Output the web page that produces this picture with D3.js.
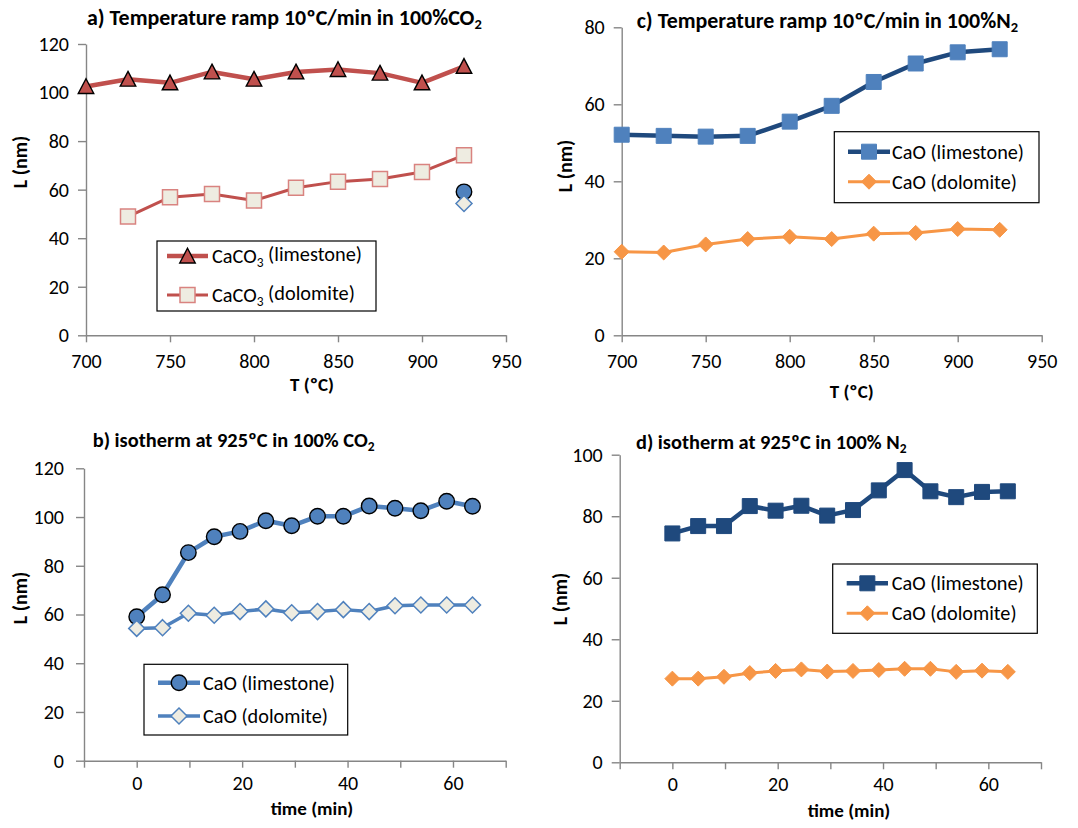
<!DOCTYPE html>
<html>
<head>
<meta charset="utf-8">
<script src="https://cdn.jsdelivr.net/npm/d3@7"></script>
<style>
  body { margin: 0; background: #fff; }
  svg { display: block; }
  text { font-family: Carlito, Lato, "Open Sans", sans-serif; fill: #000; }
</style>
</head>
<body>
<svg id="chart" width="1078" height="828"></svg>
<script>
// ---- data ----
const rampTemp = [700, 725, 750, 775, 800, 825, 850, 875, 900, 925];
const rampTempDolomite = [725, 750, 775, 800, 825, 850, 875, 900, 925];
const caco3Limestone = [102.5, 105.5, 104, 108.5, 105.5, 108.5, 109.5, 108, 104, 110.8];
const caco3Dolomite = [48.9, 56.9, 58.2, 55.5, 60.8, 63.3, 64.4, 67.3, 74.2];
const caoLimestoneN2Ramp = [52.1, 51.8, 51.6, 51.8, 55.5, 59.6, 65.8, 70.6, 73.5, 74.3];
const caoDolomiteN2Ramp = [21.7, 21.5, 23.6, 25.0, 25.6, 25.0, 26.4, 26.6, 27.6, 27.4];

const isoTime = [0, 4.9, 9.8, 14.7, 19.6, 24.5, 29.4, 34.3, 39.2, 44.1, 49, 53.9, 58.8, 63.7];
const caoLimestoneCO2 = [59.1, 68.1, 85.4, 91.9, 94.1, 98.5, 96.4, 100.3, 100.3, 104.5, 103.6, 102.6, 106.5, 104.4];
const caoDolomiteCO2 = [54.3, 54.6, 60.5, 59.7, 61.2, 62.3, 60.7, 61.2, 62.0, 61.2, 63.6, 63.9, 63.9, 63.9];
const caoLimestoneN2 = [74.4, 76.8, 76.8, 83.3, 81.8, 83.4, 80.2, 82.0, 88.4, 95.0, 88.1, 86.2, 87.9, 88.1];
const caoDolomiteN2 = [27.2, 27.2, 27.8, 29.0, 29.7, 30.2, 29.5, 29.7, 30.0, 30.4, 30.4, 29.4, 29.8, 29.4];
// the CO2 isotherm starts at the end temperature of the ramp
const isoStartTemp = [925];

// ---- ticks ----
const tempTicks = [700, 750, 800, 850, 900, 950];
const timeTicks = [-10, 0, 10, 20, 30, 40, 50, 60, 70];
const timeTickLabels = [0, 20, 40, 60];
const lTicks120 = [0, 20, 40, 60, 80, 100, 120];
const lTicks80 = [0, 20, 40, 60, 80];
const lTicks100 = [0, 20, 40, 60, 80, 100];

// ---- colours ----
const RED = "#C0504D", BLUE = "#4F81BD", NAVY = "#1F497D", ORANGE = "#F79646", BEIGE = "#EEECE1";
const AXIS = "#868686";

const svg = d3.select("#chart");

// marker shapes centred on (0,0)
function markerPath(kind, s) {
  const h = s / 2;
  if (kind === "triangle") return `M0,${-h}L${h},${h * 0.9}L${-h},${h * 0.9}Z`;
  if (kind === "square") return `M${-h},${-h}H${h}V${h}H${-h}Z`;
  if (kind === "diamond") return `M0,${-h}L${h},0L0,${h}L${-h},0Z`;
  if (kind === "circle") return `M${h},0A${h},${h} 0 1 1 ${-h},0A${h},${h} 0 1 1 ${h},0Z`;
}

function drawMarkers(g, pts, st) {
  g.selectAll(null).data(pts).join("path")
    .attr("d", markerPath(st.marker, st.size))
    .attr("transform", d => `translate(${d[0]},${d[1]})`)
    .attr("fill", st.fill)
    .attr("stroke", st.stroke)
    .attr("stroke-width", st.strokeWidth);
}

// text with optional subscript part: parts = [[text, isSub], ...]
function richText(sel, parts) {
  parts.forEach(([t, sub]) => {
    const ts = sel.append("tspan").text(t);
    if (sub) ts.attr("font-size", "0.66em").attr("dy", "0.28em");
    else if (sel.selectAll("tspan").size() > 1) ts.attr("dy", "-0.28em");
  });
  return sel;
}

// scale the font so the text spans a given width
function fitWidth(sel, width) {
  const node = sel.node();
  const fs = parseFloat(sel.attr("font-size"));
  const w = node.getComputedTextLength();
  if (w > 0) sel.attr("font-size", (fs * width / w).toFixed(2));
}

function drawPanel(p) {
  const x = d3.scaleLinear().domain(p.xDomain).range([p.left, p.right]);
  const y = d3.scaleLinear().domain(p.yDomain).range([p.bottom, p.top]);
  const g = svg.append("g");

  // axes
  const yAxis = g.append("g").attr("transform", `translate(${p.left},0)`)
    .call(d3.axisLeft(y).tickValues(p.yTicks).tickSize(8).tickSizeOuter(0).tickPadding(p.yPad));
  const xAxis = g.append("g").attr("transform", `translate(0,${p.bottom})`)
    .call(d3.axisBottom(x).tickValues(p.xTicks).tickSize(7).tickSizeOuter(0).tickPadding(p.xPad)
      .tickFormat(d => p.xLabels.includes(d) ? d : ""));
  [yAxis, xAxis].forEach(a => {
    a.attr("font-family", null).attr("font-size", null);
    a.select(".domain").attr("stroke", AXIS).attr("stroke-width", 1.4);
    a.selectAll(".tick line").attr("stroke", AXIS).attr("stroke-width", 1.4);
    a.selectAll(".tick text").attr("font-size", 20).attr("fill", "#000");
  });
  // unlabelled minor ticks carry no text
  xAxis.selectAll(".tick text").filter(d => !p.xLabels.includes(d)).remove();

  // series
  p.series.forEach(s => {
    const pts = s.xs.map((xv, i) => [x(xv), y(s.ys[i])]);
    if (s.lineWidth) {
      g.append("path").datum(pts)
        .attr("d", d3.line())
        .attr("fill", "none").attr("stroke", s.line).attr("stroke-width", s.lineWidth)
        .attr("stroke-linejoin", "round").attr("stroke-linecap", "round");
    }
    drawMarkers(g.append("g"), pts, s);
  });

  // title
  const title = g.append("text").attr("x", p.title.x).attr("y", p.title.y)
    .attr("font-weight", "bold").attr("font-size", 18);
  richText(title, p.title.parts);
  fitWidth(title, p.title.width);

  // axis titles
  g.append("text").attr("x", p.xTitle.x).attr("y", p.xTitle.y).attr("text-anchor", "middle")
    .attr("font-weight", "bold").attr("font-size", 19).text(p.xTitle.text);
  g.append("text").attr("transform", `translate(${p.yTitle.x},${p.yTitle.y}) rotate(-90)`)
    .attr("text-anchor", "middle").attr("font-weight", "bold").attr("font-size", 20).text("L (nm)");

  // legend
  const L = p.legend;
  const lg = g.append("g");
  lg.append("rect").attr("x", L.x0).attr("y", L.y0).attr("width", L.x1 - L.x0).attr("height", L.y1 - L.y0)
    .attr("fill", "#fff").attr("stroke", "#000").attr("stroke-width", 1.2);
  let fs = null;
  L.items.forEach((it, i) => {
    const s = p.series[it.series];
    const cy = L.rows[i];
    lg.append("line").attr("x1", L.lineX0).attr("x2", L.lineX1).attr("y1", cy).attr("y2", cy)
      .attr("stroke", s.line).attr("stroke-width", s.lineWidth);
    drawMarkers(lg.append("g"), [[(L.lineX0 + L.lineX1) / 2, cy]], s);
    const t = lg.append("text").attr("x", L.textX).attr("y", cy).attr("dy", "0.35em").attr("font-size", 17);
    richText(t, it.parts);
    if (i === 0) { fitWidth(t, L.textWidth); fs = t.attr("font-size"); }
    else t.attr("font-size", fs);
  });
}

const limeTri = { marker: "triangle", size: 15.5, fill: RED, stroke: "#000", strokeWidth: 1.4, line: RED, lineWidth: 4.5 };
const doloSq = { marker: "square", size: 15, fill: BEIGE, stroke: "#D98380", strokeWidth: 1.5, line: RED, lineWidth: 3 };
const blueCircle = { marker: "circle", size: 15.5, fill: BLUE, stroke: "#000", strokeWidth: 1.4, line: BLUE, lineWidth: 4.5 };
const beigeDiamond = { marker: "diamond", size: 16, fill: BEIGE, stroke: BLUE, strokeWidth: 1.5, line: BLUE, lineWidth: 3.5 };
const orangeDiamond = { marker: "diamond", size: 15, fill: ORANGE, stroke: ORANGE, strokeWidth: 1, line: ORANGE, lineWidth: 3 };

const panels = [
  {
    left: 86, right: 506, top: 44, bottom: 335.3, xDomain: [700, 950], yDomain: [0, 120],
    xTicks: tempTicks, xLabels: tempTicks, yTicks: lTicks120, yPad: 9, xPad: 12,
    series: [
      Object.assign({ xs: rampTemp, ys: caco3Limestone }, limeTri),
      Object.assign({ xs: rampTempDolomite, ys: caco3Dolomite }, doloSq),
      Object.assign({ xs: isoStartTemp, ys: [caoLimestoneCO2[0]] }, blueCircle, { lineWidth: 0 }),
      Object.assign({ xs: isoStartTemp, ys: [caoDolomiteCO2[0]] }, beigeDiamond, { lineWidth: 0 })
    ],
    title: { x: 87, y: 25, width: 395, parts: [["a) Temperature ramp 10ºC/min in 100%CO", false], ["2", true]] },
    xTitle: { x: 312, y: 391, text: "T (ºC)" },
    yTitle: { x: 27, y: 162 },
    legend: { x0: 157, x1: 376, y0: 241, y1: 311, rows: [256, 295], lineX0: 167, lineX1: 208, textX: 212, textWidth: 150,
      items: [{ series: 0, parts: [["CaCO", false], ["3", true], [" (limestone)", false]] },
              { series: 1, parts: [["CaCO", false], ["3", true], [" (dolomite)", false]] }] }
  },
  {
    left: 621.7, right: 1041.7, top: 27.3, bottom: 335.3, xDomain: [700, 950], yDomain: [0, 80],
    xTicks: tempTicks, xLabels: tempTicks, yTicks: lTicks80, yPad: 9, xPad: 12,
    series: [
      Object.assign({ xs: rampTemp, ys: caoLimestoneN2Ramp }, { marker: "square", size: 15, fill: BLUE, stroke: BLUE, strokeWidth: 1, line: NAVY, lineWidth: 4.5 }),
      Object.assign({ xs: rampTemp, ys: caoDolomiteN2Ramp }, orangeDiamond)
    ],
    title: { x: 636.7, y: 27.5, width: 381.6, parts: [["c) Temperature ramp 10ºC/min in 100%N", false], ["2", true]] },
    xTitle: { x: 851.7, y: 398, text: "T (ºC)" },
    yTitle: { x: 572, y: 166 },
    legend: { x0: 834.3, x1: 1039, y0: 131.7, y1: 202.7, rows: [151.7, 181.7], lineX0: 848, lineX1: 890, textX: 892, textWidth: 132,
      items: [{ series: 0, parts: [["CaO (limestone)", false]] }, { series: 1, parts: [["CaO (dolomite)", false]] }] }
  },
  {
    left: 84, right: 505.7, top: 468.3, bottom: 760.7, xDomain: [-10, 70], yDomain: [0, 120],
    xTicks: timeTicks, xLabels: timeTickLabels, yTicks: lTicks120, yPad: 12, xPad: 8,
    series: [
      Object.assign({ xs: isoTime, ys: caoLimestoneCO2 }, blueCircle),
      Object.assign({ xs: isoTime, ys: caoDolomiteCO2 }, beigeDiamond)
    ],
    title: { x: 92.7, y: 447, width: 282, parts: [["b) isotherm at 925ºC in 100% CO", false], ["2", true]] },
    xTitle: { x: 312, y: 815, text: "time (min)" },
    yTitle: { x: 27, y: 598 },
    legend: { x0: 144, x1: 347.7, y0: 664.3, y1: 735, rows: [682.7, 716], lineX0: 158, lineX1: 200, textX: 203, textWidth: 132,
      items: [{ series: 0, parts: [["CaO (limestone)", false]] }, { series: 1, parts: [["CaO (dolomite)", false]] }] }
  },
  {
    left: 619.7, right: 1041, top: 454.7, bottom: 762.3, xDomain: [-10, 70], yDomain: [0, 100],
    xTicks: timeTicks, xLabels: timeTickLabels, yTicks: lTicks100, yPad: 9, xPad: 8,
    series: [
      Object.assign({ xs: isoTime, ys: caoLimestoneN2 }, { marker: "square", size: 15, fill: NAVY, stroke: NAVY, strokeWidth: 1, line: NAVY, lineWidth: 4.5 }),
      Object.assign({ xs: isoTime, ys: caoDolomiteN2 }, orangeDiamond)
    ],
    title: { x: 636, y: 449, width: 270.7, parts: [["d) isotherm at 925ºC in 100% N", false], ["2", true]] },
    xTitle: { x: 849, y: 817, text: "time (min)" },
    yTitle: { x: 567, y: 599 },
    legend: { x0: 832.7, x1: 1037.3, y0: 564, y1: 633.3, rows: [583.3, 613.3], lineX0: 846.7, lineX1: 888, textX: 891.7, textWidth: 132,
      items: [{ series: 0, parts: [["CaO (limestone)", false]] }, { series: 1, parts: [["CaO (dolomite)", false]] }] }
  }
];

panels.forEach(drawPanel);
</script>
</body>
</html>
